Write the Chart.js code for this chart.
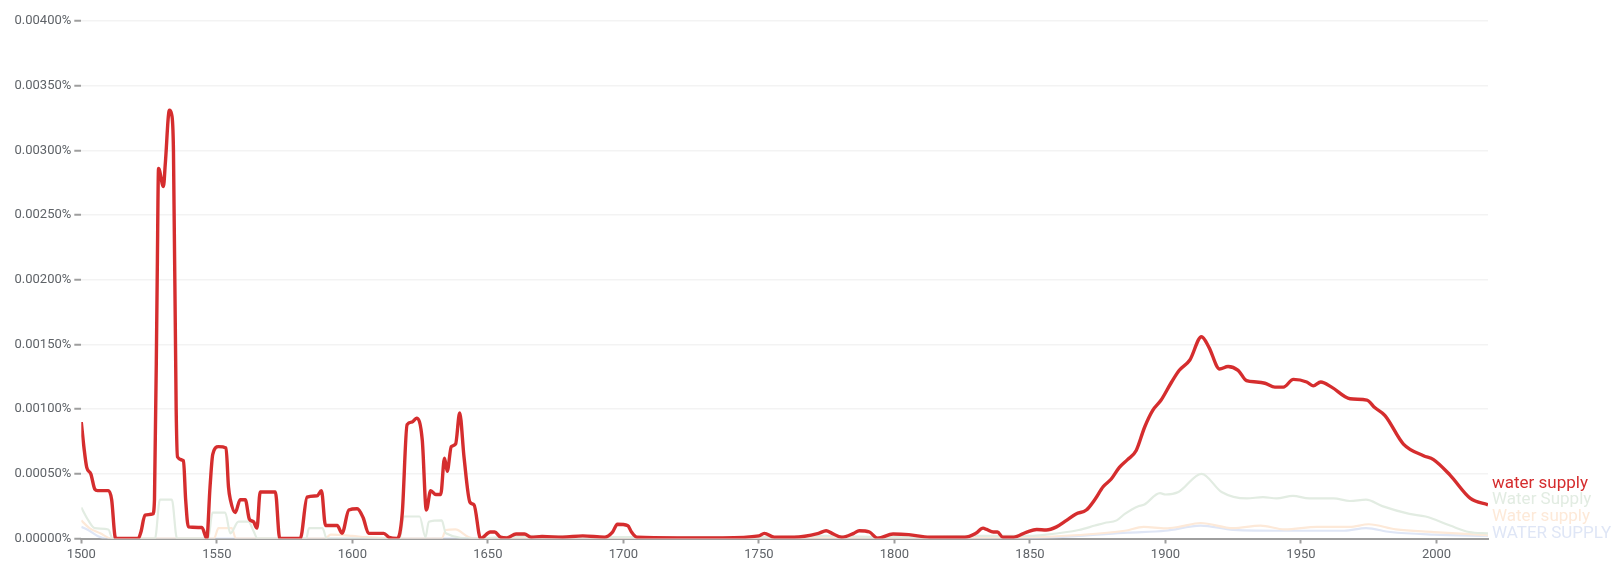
<!DOCTYPE html>
<html>
<head>
<meta charset="utf-8">
<script src="https://cdn.jsdelivr.net/npm/chart.js@4.4.1/dist/chart.umd.min.js"></script>
<style>
  html, body { margin: 0; padding: 0; background: #ffffff; }
  #wrap { width: 1619px; height: 573px; position: relative; }
</style>
</head>
<body>
<div id="wrap"><canvas id="c"></canvas></div>
<script>
// ---- data (values in percent) ----
const seriesNames = ["water supply", "Water Supply", "Water supply", "WATER SUPPLY"];

const redYears = [1500,1501,1502,1503.5,1505,1506,1510,1511.2,1512.5,1513,1521,1522,1523.5,1526.4,1527,1528,1528.5,1530.3,1531,1532.5,1533.3,1534,1535,1535.5,1537.7,1538.5,1539.5,1544.5,1546.3,1547.5,1548.5,1550.6,1553.4,1554.3,1555,1556.8,1558.6,1560.5,1562,1563.5,1564.8,1566,1571.6,1573.2,1580.8,1583.3,1587,1588.6,1590.1,1594.4,1596.2,1598.7,1601.8,1604,1606,1611.6,1613.5,1616.6,1618.4,1620.2,1622,1623.7,1625.8,1627.3,1628.9,1630.8,1632.6,1634,1635,1636.5,1638.1,1639.6,1641.2,1643.4,1644.9,1647.3,1650.9,1652.5,1654.7,1657,1660.4,1663.5,1666,1670,1677.6,1685,1693,1696,1697.8,1701.6,1703,1705,1720,1736.7,1750,1752,1755.7,1763,1772,1774.8,1777,1780.5,1785,1787,1790.8,1793.8,1799.5,1805.3,1813,1826,1830,1832.7,1834,1836.5,1838,1840,1844,1848.8,1852.5,1856,1859.8,1863.5,1867,1870.8,1873.9,1877,1880,1883,1886,1889.2,1892.3,1895.3,1898.4,1902,1905.1,1909,1913.3,1916,1920,1923.1,1926.8,1929.9,1933.6,1936.7,1940.4,1943.5,1947.2,1952.1,1954.5,1957.3,1961.3,1968.1,1974.3,1977.3,1981,1987.8,1995.2,1998.9,2005,2012.5,2019];
const redValues = [0.00090,0.00070,0.00055,0.00050,0.00038,0.00037,0.00037,0.00030,0.00001,0,0,0.00005,0.00018,0.00019,0.00030,0.00200,0.00286,0.00272,0.00290,0.00331,0.00328,0.00300,0.00100,0.00063,0.00060,0.00030,0.00009,0.000085,0,0.00040,0.00065,0.00071,0.00070,0.00040,0.00030,0.00020,0.00030,0.00030,0.00015,0.00013,0.00008,0.00036,0.00036,0,0,0.00032,0.00033,0.00037,0.00010,0.00010,0.00004,0.00022,0.00023,0.00016,0.00004,0.00004,0.00001,0,0.00019,0.00088,0.00090,0.00093,0.00076,0.00022,0.00037,0.00034,0.00034,0.00062,0.00052,0.00071,0.00073,0.00097,0.00063,0.00028,0.00026,0,0.00005,0.00005,0.00001,0.000005,0.000035,0.000035,0.00001,0.000015,0.00001,0.00002,0.00001,0.00005,0.00011,0.00010,0.00005,0.00001,0.000005,0.000005,0.00002,0.00004,0.00001,0.00001,0.00004,0.00006,0.00004,0.00001,0.00004,0.00006,0.00005,0.000002,0.000035,0.00003,0.00001,0.00001,0.00004,0.00008,0.00007,0.00005,0.00005,0.00001,0.00001,0.00005,0.00007,0.000066,0.00009,0.00014,0.00019,0.00022,0.00030,0.00040,0.00046,0.00055,0.00061,0.00068,0.00086,0.00099,0.00107,0.00120,0.00130,0.00138,0.00156,0.00148,0.00131,0.00133,0.00130,0.00122,0.00121,0.00120,0.00117,0.00117,0.00123,0.00121,0.00118,0.00121,0.00117,0.00108,0.00107,0.00101,0.00095,0.00073,0.00064,0.00061,0.00049,0.00031,0.00026];

const greenYears = [1500,1502.6,1505,1510,1511.5,1527.2,1529,1533.4,1535.3,1546.8,1548.4,1553.1,1555,1558,1561.7,1563.5,1565,1583,1584,1589,1590.5,1617.5,1619,1624.8,1627,1628.2,1633,1634.5,1645,1655,1665,1700,1750,1775,1800,1830,1850,1856,1868,1874,1877.5,1882,1885,1890,1892,1898,1900,1904.8,1913.3,1920.7,1930,1936,1941,1947,1953,1962,1968,1974,1980,1990,1996,2005,2012,2019];
const greenValues = [0.00024,0.00014,0.00008,0.00007,0,0,0.00030,0.00030,0,0,0.00020,0.00020,0.00004,0.00013,0.00013,0.00006,0,0,0.00008,0.00008,0,0,0.00017,0.00017,0.00001,0.00013,0.00014,0.00004,0,0.00001,0.00002,0.00001,0.00001,0.00002,0.00001,0.00002,0.00002,0.00003,0.000066,0.00010,0.00012,0.00014,0.00019,0.00025,0.00026,0.00035,0.00034,0.00036,0.00050,0.00036,0.00031,0.00032,0.00031,0.00033,0.00031,0.00031,0.00029,0.00030,0.00025,0.00019,0.00017,0.00010,0.00005,0.00004];

const orangeYears = [1500,1503,1507,1511,1549,1550.6,1555.5,1557,1590,1592,1600,1605,1617,1633,1634.5,1638,1643,1646,1700,1800,1850,1868,1885,1892,1900,1905,1913,1925,1935,1944,1956,1968,1975,1985,1999,2019];
const orangeValues = [0.00014,0.00008,0.00004,0,0,0.00008,0.00008,0,0,0.00003,0.00002,0.00001,0,0,0.000066,0.00007,0.00001,0,0.000005,0.000005,0.00001,0.000027,0.00006,0.00009,0.000078,0.00009,0.00012,0.00008,0.00010,0.00007,0.00009,0.00009,0.00011,0.00007,0.00005,0.000025];

const blueYears = [1500,1503,1506,1509,1850,1868,1886,1900,1913,1925,1944,1966,1974,1983,1999,2019];
const blueValues = [0.00009,0.00006,0.00002,0,0.000005,0.00002,0.000045,0.00006,0.00010,0.000067,0.00006,0.00006,0.00008,0.00005,0.00003,0.00002];

const xTicks = [1500,1550,1600,1650,1700,1750,1800,1850,1900,1950,2000];
const yTicks = [0,0.0005,0.001,0.0015,0.002,0.0025,0.003,0.0035,0.004];

// ---- styles ----
const colors = ["#d52d2e", "#e2ece2", "#fde9d8", "#dfe6f6"];
const widths = [3.4, 2.2, 2.2, 2.2];

function pts(xs, ys) { return xs.map((x, i) => ({ x: x, y: ys[i] })); }
const allData = [pts(redYears, redValues), pts(greenYears, greenValues), pts(orangeYears, orangeValues), pts(blueYears, blueValues)];

const datasets = allData.map((d, i) => ({
  label: seriesNames[i],
  data: d,
  borderColor: colors[i],
  backgroundColor: colors[i],
  borderWidth: widths[i],
  pointRadius: 0,
  cubicInterpolationMode: 'monotone',
  fill: false,
  order: i === 0 ? 0 : i + 1
}));

const labelPlugin = {
  id: 'endLabels',
  afterDatasetsDraw(chart) {
    const ctx = chart.ctx;
    const y = chart.scales.y;
    const area = chart.chartArea;
    const gap = 16.7;
    const zeroPx = y.getPixelForValue(0) - 5;
    const pos = [];
    let prev = null;
    for (let i = allData.length - 1; i >= 0; i--) {
      const d = allData[i];
      let py = Math.min(y.getPixelForValue(d[d.length - 1].y), zeroPx);
      if (prev !== null) py = Math.min(py, prev - gap);
      pos[i] = py;
      prev = py;
    }
    ctx.save();
    ctx.font = '17px Roboto';
    ctx.textAlign = 'left';
    ctx.textBaseline = 'middle';
    for (let i = allData.length - 1; i >= 0; i--) {
      ctx.fillStyle = colors[i];
      ctx.fillText(seriesNames[i], area.right + 4, pos[i]);
    }
    ctx.restore();
  }
};

new Chart(document.getElementById('c'), {
  type: 'line',
  data: { datasets: datasets },
  options: {
    responsive: true,
    maintainAspectRatio: false,
    animation: false,
    layout: { padding: { left: 0, right: 131, top: 21, bottom: 0 } },
    plugins: { legend: { display: false }, tooltip: { enabled: false } },
    scales: {
      x: {
        type: 'linear',
        min: 1500,
        max: 2019,
        afterBuildTicks(scale) { scale.ticks = xTicks.map(v => ({ value: v })); },
        afterFit(scale) { scale.height = 34.5; },
        ticks: {
          callback: v => String(v),
          font: { family: 'Roboto', size: 13 },
          color: '#5f6368',
          padding: 3,
          maxRotation: 0
        },
        grid: { drawOnChartArea: false, drawTicks: true, tickLength: 5, tickColor: '#9e9e9e', tickWidth: 2 },
        border: { display: true, color: '#9e9e9e', width: 2 }
      },
      y: {
        min: 0,
        max: 0.004,
        afterBuildTicks(scale) { scale.ticks = yTicks.map(v => ({ value: v })); },
        afterFit(scale) { scale.width = 81.3; },
        ticks: {
          callback: v => v.toFixed(5) + '%',
          font: { family: 'Roboto', size: 13 },
          color: '#5f6368',
          padding: 3
        },
        grid: { color: '#f3f3f3', lineWidth: 1.5, tickLength: 7, tickColor: '#9e9e9e', tickWidth: 2 },
        border: { display: false }
      }
    }
  },
  plugins: [labelPlugin]
});
</script>
</body>
</html>
